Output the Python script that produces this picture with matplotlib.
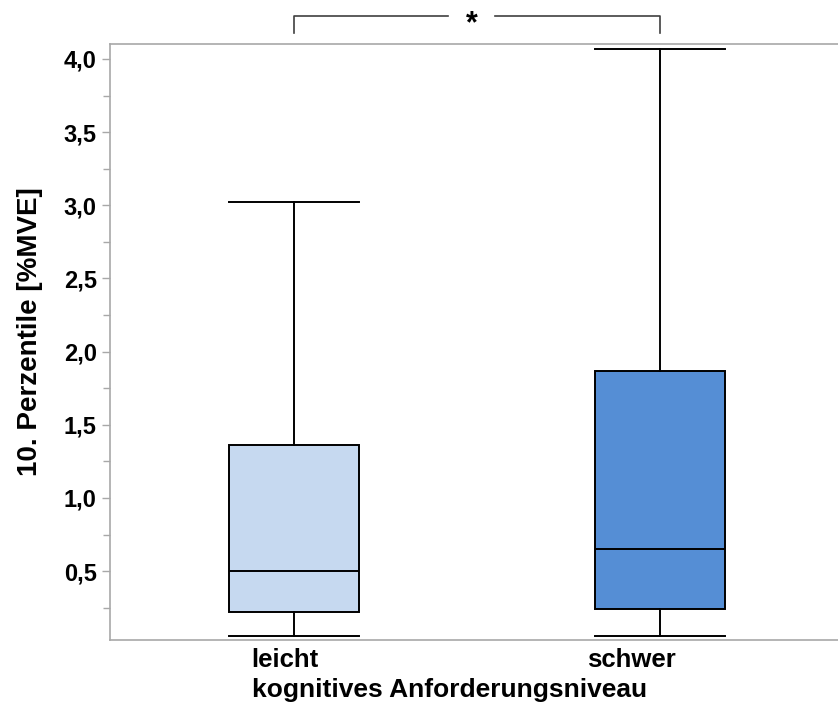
import matplotlib
matplotlib.use("Agg")
import matplotlib.pyplot as plt
from matplotlib.ticker import FixedLocator, FuncFormatter

plt.rcParams['font.family'] = ['Liberation Sans', 'DejaVu Sans']

# box plot statistics per group: lower whisker, Q1, median, Q3, upper whisker
groups = ['leicht', 'schwer']
whislo = [0.057, 0.057]
q1 = [0.221, 0.241]
med = [0.50, 0.653]
q3 = [1.362, 1.868]
whishi = [3.02, 4.07]
box_colors = ['#C6D9F0', '#558ED5']

yticks = [0.5, 1.0, 1.5, 2.0, 2.5, 3.0, 3.5, 4.0]
yminor = [0.25, 0.75, 1.25, 1.75, 2.25, 2.75, 3.25, 3.75]

stats = []
for i, g in enumerate(groups):
    stats.append({'label': g, 'whislo': whislo[i], 'q1': q1[i], 'med': med[i],
                  'q3': q3[i], 'whishi': whishi[i], 'fliers': []})

fig = plt.figure(figsize=(8.38, 7.10), dpi=100)
ax = fig.add_axes([110 / 838, 1 - 640 / 710, 1 - 110 / 838, (640 - 44) / 710])

bp = ax.bxp(stats, positions=[1, 2], widths=0.357, patch_artist=True,
            showfliers=False,
            boxprops=dict(edgecolor='black', linewidth=1.4),
            medianprops=dict(color='black', linewidth=1.4),
            whiskerprops=dict(color='black', linewidth=1.4),
            capprops=dict(color='black', linewidth=1.4),
            capwidths=0.357)
for patch, c in zip(bp['boxes'], box_colors):
    patch.set_facecolor(c)

ax.set_xlim(0.497, 2.486)
ax.set_ylim(0.0295, 4.1025)

# group labels sit slightly left of the box centres
ax.set_xticks([0.975, 1.921])
ax.set_xticklabels(groups)

ax.yaxis.set_major_locator(FixedLocator(yticks))
ax.yaxis.set_minor_locator(FixedLocator(yminor))
ax.yaxis.set_major_formatter(FuncFormatter(lambda v, p: f"{v:.1f}".replace('.', ',')))

for s in ['left', 'top', 'bottom']:
    ax.spines[s].set_color('#A8A8A8')
    ax.spines[s].set_linewidth(1.2)
ax.spines['right'].set_visible(False)

ax.tick_params(axis='y', which='both', colors='#A8A8A8', length=6, width=1.0,
               labelcolor='black', labelsize=17)
ax.tick_params(axis='y', which='minor', length=5)
ax.tick_params(axis='x', length=0, labelsize=18.5, pad=6)
for lbl in ax.get_yticklabels() + ax.get_xticklabels():
    lbl.set_fontweight('bold')

ax.set_ylabel('10. Perzentile [%MVE]', fontsize=20, fontweight='bold')
ax.yaxis.set_label_coords(-(110 - 43) / 728, (640 - 332) / 596)
ax.set_xlabel('kognitives Anforderungsniveau', fontsize=19, fontweight='bold', labelpad=0)
ax.xaxis.set_label_coords((450 - 110) / 728, -(690 - 640) / 596)
ax.xaxis.label.set_va('center')

# significance bracket above the two groups
trans = ax.get_xaxis_transform()
fy = lambda y: (y - ax.get_position().y0) / ax.get_position().height
top, bot = fy((710 - 16) / 710), fy((710 - 33) / 710)
ax.plot([1, 1, 1.42], [bot, top, top], color='#404040', lw=1.2,
        transform=trans, clip_on=False)
ax.plot([1.55, 2, 2], [top, top, bot], color='#404040', lw=1.2,
        transform=trans, clip_on=False)
ax.text(1.485, fy((710 - 24) / 710), '*', ha='center', va='center', fontsize=22,
        fontweight='bold', transform=trans, clip_on=False)

fig.savefig('out.png', dpi=100)
